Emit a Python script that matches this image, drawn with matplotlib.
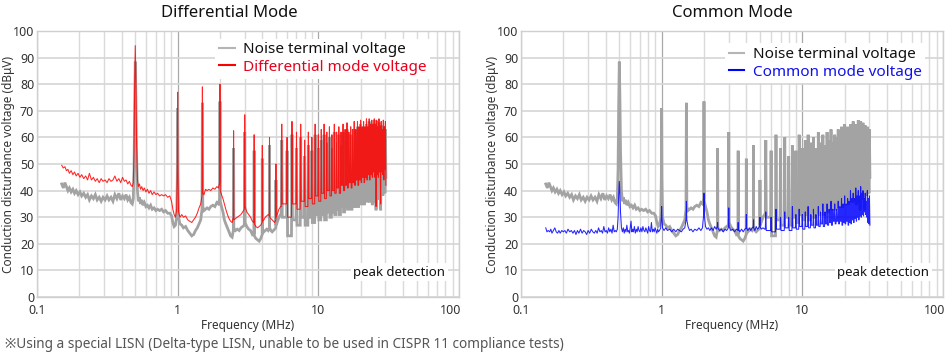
import matplotlib
matplotlib.use("Agg")
import matplotlib.pyplot as plt
from matplotlib.lines import Line2D
from matplotlib.ticker import FixedLocator, NullFormatter, LogLocator
from matplotlib.transforms import ScaledTranslation

plt.rcParams['font.family'] = ['Noto Sans', 'Noto Sans CJK JP', 'DejaVu Sans']

# --- data ------------------------------------------------------------------
# low-frequency part, (MHz, dBuV)
noise_lo = [
    (0.150, 42.5), (0.154, 41.0), (0.158, 43.0), (0.162, 41.5), (0.166, 40.0), (0.170, 41.0),
    (0.175, 39.5), (0.180, 40.5), (0.185, 39.0), (0.190, 40.0), (0.196, 38.5), (0.202, 39.5),
    (0.208, 38.0), (0.215, 39.0), (0.222, 37.5), (0.229, 38.5), (0.236, 36.5), (0.244, 38.0),
    (0.252, 37.0), (0.260, 38.5), (0.268, 36.5), (0.277, 37.5), (0.286, 36.0), (0.295, 37.5),
    (0.305, 36.5), (0.315, 38.0), (0.325, 36.5), (0.336, 37.5), (0.347, 36.0), (0.358, 38.5),
    (0.370, 37.0), (0.382, 39.0), (0.394, 36.5), (0.406, 38.0), (0.418, 37.0), (0.430, 38.5),
    (0.442, 36.5), (0.454, 37.5), (0.466, 35.5), (0.476, 35.0), (0.484, 37.0), (0.490, 48.0),
    (0.495, 72.0), (0.500, 88.5), (0.505, 75.0), (0.510, 55.0), (0.518, 40.0), (0.526, 36.0),
    (0.535, 37.5), (0.545, 35.0), (0.556, 36.5), (0.568, 34.5), (0.580, 35.5), (0.595, 34.0),
    (0.610, 34.5), (0.626, 33.5), (0.643, 34.5), (0.660, 33.0), (0.680, 33.5), (0.700, 32.5),
    (0.720, 33.0), (0.745, 32.5), (0.770, 33.0), (0.795, 32.0), (0.820, 32.5), (0.850, 31.5),
    (0.880, 31.5), (0.905, 30.5), (0.925, 28.0), (0.945, 26.5), (0.965, 27.0), (0.985, 30.0),
    (0.995, 45.0), (1.000, 71.0), (1.005, 45.0), (1.015, 30.0), (1.040, 27.5), (1.070, 27.0),
    (1.100, 26.0), (1.140, 26.5), (1.180, 25.0), (1.220, 24.0), (1.260, 23.0), (1.300, 23.5),
    (1.340, 25.0), (1.380, 26.0), (1.420, 27.5), (1.460, 29.0), (1.490, 33.0), (1.500, 73.0),
    (1.510, 34.0), (1.540, 32.5), (1.580, 33.0), (1.620, 33.5), (1.670, 33.0), (1.720, 34.0),
    (1.780, 34.5), (1.840, 34.0), (1.900, 35.5), (1.950, 35.0), (1.990, 37.0), (2.000, 73.5),
    (2.010, 36.0), (2.050, 34.0), (2.100, 32.0), (2.150, 29.0), (2.200, 27.5), (2.260, 26.0),
    (2.320, 24.5), (2.380, 23.0), (2.440, 22.5), (2.490, 25.0), (2.500, 56.0), (2.510, 26.0),
    (2.580, 25.0), (2.660, 25.5), (2.740, 25.0), (2.820, 26.0), (2.900, 26.5), (2.980, 27.0),
    (3.000, 62.0), (3.020, 28.0), (3.100, 26.5), (3.200, 25.5), (3.300, 25.0), (3.400, 23.5),
    (3.490, 24.0), (3.500, 55.0), (3.510, 23.0), (3.600, 22.0), (3.700, 21.5), (3.800, 21.0),
    (3.900, 22.0), (3.990, 23.5), (4.000, 52.0), (4.010, 24.0), (4.100, 24.5), (4.200, 25.0),
    (4.300, 25.5), (4.400, 25.0), (4.490, 26.0), (4.500, 57.0), (4.510, 26.0), (4.600, 25.0),
    (4.700, 24.5), (4.800, 25.0), (4.900, 25.5), (4.990, 26.0), (5.000, 44.0), (5.010, 27.0),
    (5.100, 28.0), (5.250, 30.0), (5.400, 31.0),
]

diff_lo = [
    (0.150, 49.5), (0.154, 48.5), (0.158, 49.0), (0.162, 47.5), (0.166, 48.0), (0.170, 46.5),
    (0.175, 47.5), (0.180, 46.0), (0.185, 47.0), (0.190, 45.5), (0.196, 46.5), (0.202, 45.0),
    (0.208, 46.0), (0.215, 44.5), (0.222, 45.5), (0.229, 44.0), (0.236, 46.5), (0.244, 44.0),
    (0.252, 45.0), (0.260, 43.5), (0.268, 44.5), (0.277, 43.0), (0.286, 44.5), (0.295, 43.5),
    (0.305, 44.0), (0.315, 43.0), (0.325, 44.5), (0.336, 43.5), (0.347, 44.0), (0.358, 45.5),
    (0.370, 43.5), (0.382, 44.5), (0.394, 43.0), (0.406, 45.0), (0.418, 43.5), (0.430, 44.0),
    (0.442, 42.5), (0.454, 43.5), (0.466, 42.0), (0.476, 41.5), (0.484, 43.0), (0.490, 55.0),
    (0.495, 80.0), (0.500, 94.5), (0.505, 82.0), (0.510, 60.0), (0.518, 44.0), (0.526, 41.5),
    (0.535, 42.5), (0.545, 40.5), (0.556, 41.5), (0.568, 40.0), (0.580, 41.0), (0.595, 39.5),
    (0.610, 40.5), (0.626, 39.0), (0.643, 40.0), (0.660, 38.5), (0.680, 39.5), (0.700, 38.5),
    (0.720, 39.0), (0.745, 38.0), (0.770, 38.5), (0.795, 38.0), (0.820, 38.5), (0.850, 37.5),
    (0.880, 38.0), (0.905, 36.0), (0.925, 33.0), (0.945, 31.0), (0.965, 30.0), (0.985, 33.0),
    (0.995, 50.0), (1.000, 77.0), (1.005, 50.0), (1.015, 32.0), (1.040, 30.0), (1.070, 31.0),
    (1.100, 30.0), (1.140, 30.5), (1.180, 29.0), (1.220, 28.5), (1.260, 28.0), (1.300, 29.0),
    (1.340, 30.0), (1.380, 31.5), (1.420, 33.5), (1.460, 35.0), (1.490, 38.0), (1.500, 79.0),
    (1.510, 39.0), (1.540, 38.5), (1.580, 40.5), (1.620, 40.0), (1.670, 40.5), (1.720, 40.0),
    (1.780, 41.0), (1.840, 40.5), (1.900, 41.5), (1.950, 41.0), (1.990, 43.0), (2.000, 80.0),
    (2.010, 40.0), (2.050, 38.5), (2.100, 37.0), (2.150, 35.0), (2.200, 33.0), (2.260, 31.0),
    (2.320, 29.5), (2.380, 28.5), (2.440, 28.0), (2.490, 30.0), (2.500, 62.5), (2.510, 29.0),
    (2.580, 29.5), (2.660, 30.0), (2.740, 30.5), (2.820, 31.0), (2.900, 32.0), (2.980, 33.0),
    (3.000, 68.5), (3.020, 34.0), (3.100, 32.0), (3.200, 31.0), (3.300, 30.0), (3.400, 28.5),
    (3.490, 28.0), (3.500, 61.0), (3.510, 27.5), (3.600, 26.5), (3.700, 26.0), (3.800, 26.5),
    (3.900, 27.0), (3.990, 28.0), (4.000, 57.0), (4.010, 28.5), (4.100, 29.0), (4.200, 30.0),
    (4.300, 30.5), (4.400, 31.0), (4.490, 30.5), (4.500, 60.0), (4.510, 30.0), (4.600, 29.5),
    (4.700, 29.0), (4.800, 28.5), (4.900, 28.0), (4.990, 29.0), (5.000, 50.0), (5.010, 30.0),
    (5.100, 31.0), (5.250, 33.0), (5.400, 34.0),
]

common_lo = [
    (0.150, 26.0), (0.153, 24.5), (0.156, 25.0), (0.160, 24.5), (0.163, 25.5), (0.166, 24.0),
    (0.170, 25.0), (0.174, 26.0), (0.178, 24.5), (0.182, 24.0), (0.186, 25.0), (0.190, 24.0),
    (0.195, 25.0), (0.200, 24.5), (0.205, 25.0), (0.210, 24.0), (0.216, 25.5), (0.222, 24.5),
    (0.228, 25.0), (0.234, 24.0), (0.240, 25.0), (0.246, 23.5), (0.252, 25.0), (0.258, 24.0),
    (0.265, 25.5), (0.272, 24.0), (0.279, 25.0), (0.286, 24.5), (0.293, 23.5), (0.300, 25.0),
    (0.308, 24.0), (0.316, 25.5), (0.324, 24.5), (0.332, 24.0), (0.340, 25.0), (0.348, 24.0),
    (0.356, 26.0), (0.364, 24.5), (0.372, 25.0), (0.380, 24.0), (0.388, 26.5), (0.396, 24.5),
    (0.404, 25.0), (0.412, 24.0), (0.420, 26.0), (0.428, 24.5), (0.436, 25.5), (0.444, 24.0),
    (0.452, 27.0), (0.460, 24.5), (0.468, 25.0), (0.476, 24.5), (0.484, 25.5), (0.490, 30.0),
    (0.495, 38.0), (0.500, 43.5), (0.505, 39.0), (0.510, 32.0), (0.518, 26.0), (0.526, 24.5),
    (0.534, 26.0), (0.542, 24.0), (0.550, 25.5), (0.558, 24.5), (0.566, 27.0), (0.574, 24.5),
    (0.582, 25.0), (0.590, 24.0), (0.598, 26.0), (0.606, 28.5), (0.614, 24.5), (0.622, 25.5),
    (0.630, 24.5), (0.640, 26.5), (0.650, 24.0), (0.660, 25.5), (0.670, 24.5), (0.680, 26.5),
    (0.690, 25.0), (0.700, 24.5), (0.712, 26.0), (0.724, 24.5), (0.736, 26.5), (0.748, 25.0),
    (0.760, 24.5), (0.772, 26.0), (0.784, 25.0), (0.796, 24.0), (0.808, 26.5), (0.820, 25.0),
    (0.833, 24.5), (0.846, 28.0), (0.859, 24.5), (0.872, 25.5), (0.885, 24.5), (0.898, 26.0),
    (0.911, 25.0), (0.924, 24.0), (0.937, 25.5), (0.950, 24.5), (0.965, 25.0), (0.985, 26.0),
    (0.995, 30.0), (1.000, 34.0), (1.005, 30.0), (1.015, 26.0), (1.040, 25.0), (1.070, 26.0),
    (1.100, 25.0), (1.140, 25.5), (1.180, 24.5), (1.220, 25.5), (1.260, 24.5), (1.300, 25.5),
    (1.340, 25.0), (1.380, 24.5), (1.420, 25.5), (1.460, 26.0), (1.490, 29.0), (1.500, 36.0),
    (1.510, 29.0), (1.540, 26.5), (1.580, 25.0), (1.620, 25.5), (1.670, 24.5), (1.720, 25.5),
    (1.780, 25.0), (1.840, 26.0), (1.900, 25.0), (1.950, 26.0), (1.990, 31.0), (2.000, 39.0),
    (2.010, 31.0), (2.050, 26.5), (2.100, 25.5), (2.150, 26.0), (2.200, 25.0), (2.260, 26.0),
    (2.320, 25.0), (2.380, 26.5), (2.440, 25.5), (2.490, 26.5), (2.500, 28.0), (2.510, 26.0),
    (2.580, 25.0), (2.660, 25.5), (2.740, 24.5), (2.820, 25.5), (2.900, 25.0), (2.980, 26.0),
    (3.000, 33.5), (3.020, 26.5), (3.100, 25.0), (3.200, 25.5), (3.300, 24.5), (3.400, 25.5),
    (3.490, 25.0), (3.500, 28.0), (3.510, 25.5), (3.600, 24.5), (3.700, 25.5), (3.800, 24.5),
    (3.900, 25.5), (3.990, 26.0), (4.000, 31.0), (4.010, 26.0), (4.100, 25.0), (4.200, 26.0),
    (4.300, 25.0), (4.400, 26.0), (4.490, 26.5), (4.500, 29.0), (4.510, 26.0), (4.600, 25.0),
    (4.700, 26.5), (4.800, 25.5), (4.900, 26.0), (4.990, 27.0), (5.000, 30.0), (5.010, 26.5),
    (5.100, 25.5), (5.250, 26.0), (5.400, 25.5),
]

# harmonics above 5 MHz: peak level and the floor level right after each one
harm_f = [5.5, 6.0, 6.5, 7.0, 7.5, 8.0, 8.5, 9.0, 9.5, 10.0,
          10.5, 11.0, 11.5, 12.0, 12.5, 13.0, 13.5, 14.0, 14.5, 15.0,
          15.5, 16.0, 16.5, 17.0, 17.5, 18.0, 18.5, 19.0, 19.5, 20.0,
          20.5, 21.0, 21.5, 22.0, 22.5, 23.0, 23.5, 24.0, 24.5, 25.0,
          25.5, 26.0, 26.5, 27.0, 27.5, 28.0, 28.5, 29.0, 29.5, 30.0]

noise_peak = [59, 55, 61, 56, 60, 53, 57, 55, 61, 56,
              59, 61, 58, 60, 56, 62, 58, 61, 57, 62,
              59, 63, 58, 61, 60, 63, 60, 64, 61, 65,
              62, 64, 61, 65, 62, 66, 63, 65, 64, 66.5,
              64, 66, 63, 65.5, 62, 64.5, 61, 64, 60, 63]
noise_floor = [30, 23, 29, 27, 30, 27, 30, 28, 31, 29,
               31, 29, 32, 30, 32, 31, 33, 31, 34, 32,
               34, 33, 35, 33, 35, 34, 36, 34, 36, 35,
               37, 35, 37, 36, 38, 36, 38, 35, 38, 36,
               33, 38, 37, 39, 33, 39, 38, 40, 39, 45]

diff_peak = [65, 60, 66, 62, 65, 59, 62, 60, 65, 61,
             63, 65, 62, 64, 61, 65, 62, 64, 62, 65,
             63, 65.5, 62, 64, 63, 66, 63, 66, 64, 66.5,
             64, 66, 64, 67, 64, 67, 65, 66.5, 65, 67,
             65, 66.5, 64, 67, 64, 66, 63, 66.5, 64, 66]
diff_floor = [35, 30, 35, 33, 36, 34, 37, 35, 38, 36,
              39, 37, 40, 38, 40, 39, 41, 39, 42, 40,
              42, 41, 43, 41, 43, 42, 44, 42, 44, 43,
              45, 43, 45, 44, 46, 44, 46, 45, 47, 45,
              34, 46, 45, 47, 35, 47, 46, 44, 48, 42]

common_peak = [32, 30, 33, 30, 32, 30, 34, 31, 33, 31,
               32, 34, 31, 33, 31, 34, 32, 35, 32, 35,
               33, 36, 33, 35, 33, 36, 34, 37, 35, 38,
               35, 37, 36, 40, 37, 39, 37, 41, 38, 40,
               38, 41.5, 39, 40, 37, 39, 36, 40, 37, 38]
common_floor = [25, 24.5, 25.5, 25, 26, 25, 26, 25.5, 26.5, 25.5,
                26.5, 26, 27, 26, 27, 26.5, 27.5, 26.5, 27.5, 27,
                28, 27, 28.5, 27.5, 28.5, 27.5, 28.5, 27, 28, 27.5,
                28.5, 27, 28, 27.5, 29, 28, 29.5, 28.5, 30, 29,
                30.5, 30, 31, 30.5, 32, 31, 30, 28, 27.5, 27]

y_ticks = [0, 10, 20, 30, 40, 50, 60, 70, 80, 90, 100]
x_ticks = [0.1, 1, 10, 100]
x_ticklabels = ["0.1", "1", "10", "100"]


def spectrum(lo, peaks, floors, w=0.008):
    """Joins the low band with the harmonic spikes into one trace."""
    f = [p[0] for p in lo]
    v = [p[1] for p in lo]
    before = v[-1]
    for hf, pk, fl in zip(harm_f, peaks, floors):
        f += [hf * (1 - w), hf, hf * (1 + w)]
        v += [before, pk, fl]
        before = fl
    return f, v


GREY = "#a3a3a3"
RED = "#ff0000"
BLUE = "#0000ff"

fig = plt.figure(figsize=(9.5, 3.56), dpi=100)
ax_l = fig.add_axes([0.0389, 0.1657, 0.4442, 0.7472])
ax_r = fig.add_axes([0.5484, 0.1657, 0.4442, 0.7472])

nf, nv = spectrum(noise_lo, noise_peak, noise_floor)
df, dv = spectrum(diff_lo, diff_peak, diff_floor)
cf, cv = spectrum(common_lo, common_peak, common_floor)

panels = [
    (ax_l, df, dv, RED, "#e8001c", "Differential mode voltage", "Differential Mode", 0.241, (0.405, 1.0)),
    (ax_r, cf, cv, BLUE, "#1010ee", "Common mode voltage", "Common Mode", 0.771, (0.466, 0.982)),
]

for ax, xf, xv, col, tcol, lab, title, tx, anchor in panels:
    ax.plot(nf, nv, color=GREY, lw=2.0, solid_joinstyle="miter", zorder=3)
    ax.plot(xf, xv, color=col, lw=0.75, alpha=0.85, zorder=4)

    ax.set_xscale("log")
    ax.set_xlim(0.1, 100)
    ax.set_ylim(0, 100)
    ax.xaxis.set_major_locator(FixedLocator(x_ticks))
    ax.set_xticklabels(x_ticklabels)
    ax.xaxis.set_minor_locator(LogLocator(base=10, subs=range(2, 10)))
    ax.xaxis.set_minor_formatter(NullFormatter())
    ax.set_yticks(y_ticks)

    ax.grid(True, which="major", axis="x", color="#a8a8a8", lw=0.9)
    ax.grid(True, which="minor", axis="x", color="#dadada", lw=1.0)
    ax.grid(True, which="major", axis="y", color="#d6d6d6", lw=1.2)
    ax.set_axisbelow(True)
    for s in ax.spines.values():
        s.set_color("#cfcfcf")
        s.set_linewidth(1.0)
    ax.tick_params(which="both", length=0, labelsize=9, colors="#333333")
    ax.tick_params(axis="x", pad=5)
    ax.tick_params(axis="y", pad=2)
    # the "100" label sits a little left of the last grid line
    last = ax.get_xticklabels()[-1]
    last.set_transform(last.get_transform() + ScaledTranslation(-6 / 72, 0, fig.dpi_scale_trans))

    ax.set_xlabel("Frequency (MHz)", fontsize=8.5, color="#333333")
    ax.xaxis.set_label_coords(0.5, -0.083)
    ax.set_ylabel("Conduction disturbance voltage (dBμV)", fontsize=8.5, color="#333333")
    ax.yaxis.set_label_coords(-0.053, 0.5)

    handles = [Line2D([], [], color="#b5b5b5", lw=1.5), Line2D([], [], color=col, lw=1.5)]
    leg = ax.legend(handles, ["Noise terminal voltage", lab], loc="upper left",
                    bbox_to_anchor=anchor,
                    fontsize=11, frameon=True, facecolor="white", edgecolor="none",
                    framealpha=1, fancybox=False, handlelength=1.0, handletextpad=0.55,
                    borderpad=0.25, labelspacing=0.15)
    leg.get_texts()[0].set_color("#111111")
    leg.get_texts()[1].set_color(tcol)
    leg.set_zorder(6)

    ax.text(0.968, 0.094, "peak detection", transform=ax.transAxes, ha="right",
            va="center", fontsize=9.5, color="#111111", zorder=6,
            bbox=dict(facecolor="white", edgecolor="none", pad=1.5))

    fig.text(tx, 0.963, title, ha="center", va="center", fontsize=12, color="#111111")

fig.text(0.005, 0.031, "※Using a special LISN (Delta-type LISN, unable to be used in CISPR 11 compliance tests)",
         ha="left", va="center", fontsize=9.8, color="#555555")

fig.savefig("out.png", dpi=100)
